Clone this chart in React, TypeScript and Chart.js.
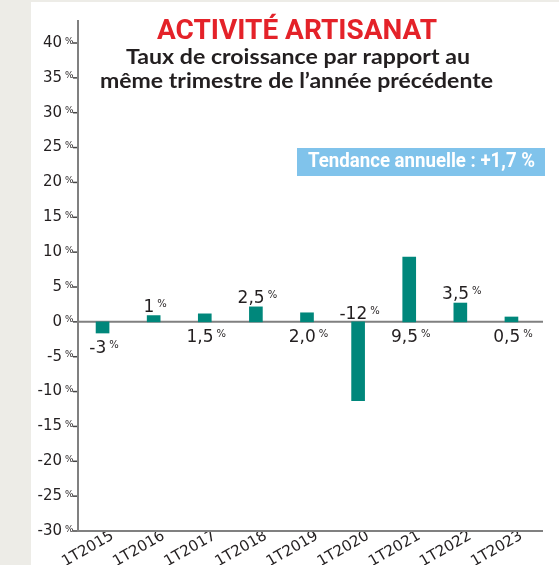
import React, { useEffect, useRef } from "react";
import { Chart, registerables } from "chart.js";

Chart.register(...registerables);

// ---- Data ----
const categories = ["1T2015", "1T2016", "1T2017", "1T2018", "1T2019", "1T2020", "1T2021", "1T2022", "1T2023"];
// Bar heights as drawn in the picture
const barValues = [-1.6, 0.9, 1.15, 2.15, 1.3, -11.3, 9.3, 2.7, 0.7];
// Value labels as printed
const valueLabels = ["-3", "1", "1,5", "2,5", "2,0", "-12", "9,5", "3,5", "0,5"];
const labelPlacement = ["belowBar", "aboveBar", "belowZero", "aboveBar", "belowZero", "aboveZero", "belowZero", "aboveBar", "belowZero"];
const yMin = -30;
const yMax = 40;
const yStep = 5;
const titleText = "ACTIVITÉ ARTISANAT";
const subtitleLines = ["Taux de croissance par rapport au", "même trimestre de l’année précédente"];
const trendText = "Tendance annuelle : +1,7 %";

const BAR_COLOR = "#00877b";
const AXIS_COLOR = "#808080";
const TEXT_COLOR = "#231f20";
const NUM_FONT = "DejaVu Sans";

function fitText(ctx: CanvasRenderingContext2D, text: string, x: number, baseline: number, width: number, font: string, color: string, align: "center" | "left") {
  ctx.save();
  ctx.font = font;
  ctx.fillStyle = color;
  ctx.textBaseline = "alphabetic";
  const w = ctx.measureText(text).width;
  const sx = width / w;
  ctx.translate(x, baseline);
  ctx.scale(sx, 1);
  ctx.textAlign = align;
  ctx.fillText(text, 0, 0);
  ctx.restore();
}

const decorPlugin = {
  id: "decor",
  beforeDraw(chart: any) {
    const { ctx, width, height } = chart;
    ctx.save();
    ctx.fillStyle = "#edece7";
    ctx.fillRect(0, 0, width, height);
    ctx.fillStyle = "#ffffff";
    ctx.fillRect(31, 2, width - 31, height - 2);
    ctx.restore();
  },
  beforeDatasetsDraw(chart: any) {
    const { ctx, chartArea } = chart;
    const y = chart.scales.y;
    const zero = y.getPixelForValue(0);
    ctx.save();
    ctx.strokeStyle = AXIS_COLOR;
    ctx.lineWidth = 2;
    ctx.beginPath();
    ctx.moveTo(chartArea.left + 1, 20);
    ctx.lineTo(chartArea.left + 1, chartArea.bottom + 1);
    ctx.moveTo(chartArea.left, zero);
    ctx.lineTo(chartArea.right + 6, zero);
    ctx.moveTo(chartArea.left, chartArea.bottom);
    ctx.lineTo(chartArea.right + 6, chartArea.bottom);
    ctx.stroke();
    // tick marks and % suffix
    ctx.strokeStyle = "#444";
    ctx.lineWidth = 1.5;
    ctx.fillStyle = TEXT_COLOR;
    ctx.font = `9px '${NUM_FONT}'`;
    ctx.textAlign = "left";
    ctx.textBaseline = "alphabetic";
    y.ticks.forEach((t: any) => {
      const py = y.getPixelForValue(t.value);
      ctx.beginPath();
      ctx.moveTo(chartArea.left - 4, py);
      ctx.lineTo(chartArea.left, py);
      ctx.stroke();
      ctx.fillText("%", chartArea.left - 12, py + 0.5);
    });
    ctx.restore();
  },
  afterDraw(chart: any) {
    const { ctx } = chart;
    const y = chart.scales.y;
    const zero = y.getPixelForValue(0);
    const meta = chart.getDatasetMeta(0);
    ctx.save();
    meta.data.forEach((el: any, i: number) => {
      const top = Math.min(el.y, zero);
      const bottom = Math.max(el.y, zero);
      let base = 0;
      switch (labelPlacement[i]) {
        case "aboveBar": base = top - 4; break;
        case "belowBar": base = bottom + 20; break;
        case "aboveZero": base = zero - 3; break;
        default: base = zero + 20;
      }
      const num = valueLabels[i];
      ctx.font = `17px '${NUM_FONT}'`;
      const wN = ctx.measureText(num).width;
      ctx.font = `10px '${NUM_FONT}'`;
      const wP = ctx.measureText("%").width;
      const gap = 3;
      const start = el.x + 1.5 - (wN + gap + wP) / 2;
      ctx.fillStyle = TEXT_COLOR;
      ctx.textAlign = "left";
      ctx.textBaseline = "alphabetic";
      ctx.font = `17px '${NUM_FONT}'`;
      ctx.fillText(num, start, base);
      ctx.font = `10px '${NUM_FONT}'`;
      ctx.fillText("%", start + wN + gap, base - 5);
    });
    ctx.restore();

    // Titles
    fitText(ctx, titleText, 297, 39, 280, "bold 27px Roboto", "#e42229", "center");
    fitText(ctx, subtitleLines[0], 298, 64, 344, "bold 20px Lato", TEXT_COLOR, "center");
    fitText(ctx, subtitleLines[1], 296.5, 88, 393, "bold 20px Lato", TEXT_COLOR, "center");

    // Trend badge
    ctx.save();
    ctx.fillStyle = "#80c3eb";
    ctx.fillRect(297, 148, 248, 28);
    ctx.restore();
    fitText(ctx, trendText, 308, 167, 227, "bold 21px Roboto", "#ffffff", "left");
  },
};

export default function App() {
  const canvasRef = useRef<HTMLCanvasElement | null>(null);

  useEffect(() => {
    if (!canvasRef.current) return;
    const chart = new Chart(canvasRef.current, {
      type: "bar",
      data: {
        labels: categories,
        datasets: [
          {
            data: barValues,
            backgroundColor: BAR_COLOR,
            borderWidth: 0,
            barThickness: 13,
          },
        ],
      },
      options: {
        responsive: false,
        maintainAspectRatio: false,
        animation: false,
        layout: { padding: { top: 43, right: 22, bottom: 0, left: 0 } },
        plugins: {
          legend: { display: false },
          tooltip: { enabled: false },
          title: { display: false },
        },
        scales: {
          x: {
            grid: { display: false, drawTicks: false },
            border: { display: false },
            ticks: {
              autoSkip: false,
              minRotation: 30,
              maxRotation: 30,
              padding: -4,
              labelOffset: 10,
              color: TEXT_COLOR,
              font: { family: NUM_FONT, size: 15 },
            },
            afterFit: (s: any) => {
              s.height = 34;
            },
          },
          y: {
            min: yMin,
            max: yMax,
            grid: { display: false, drawTicks: false },
            border: { display: false },
            ticks: {
              stepSize: yStep,
              padding: 15,
              color: TEXT_COLOR,
              font: { family: NUM_FONT, size: 15 },
              callback: (v: any) => String(v),
            },
            afterFit: (s: any) => {
              s.width = 77;
            },
          },
        },
      },
      plugins: [decorPlugin],
    });
    return () => chart.destroy();
  }, []);

  return (
    <div style={{ position: "absolute", left: 0, top: 0, width: 559, height: 565 }}>
      <canvas ref={canvasRef} width={559} height={565} style={{ display: "block" }} />
    </div>
  );
}
